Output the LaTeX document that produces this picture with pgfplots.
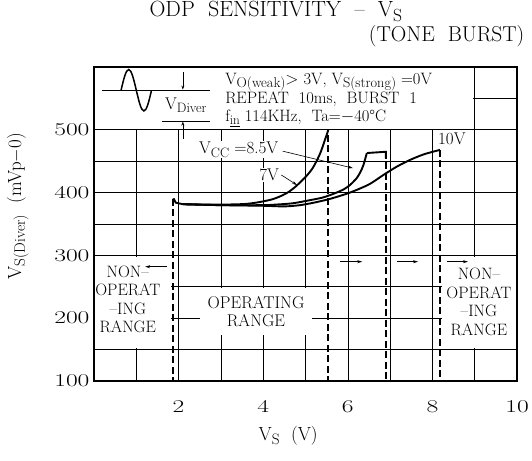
\documentclass[border=0pt]{standalone}
\usepackage{graphicx}
\usepackage{pgfplots}
\pgfplotsset{compat=1.18}
\usetikzlibrary{arrows.meta}

\newcommand\sub[1]{\raisebox{-0.45ex}{\scalebox{0.8}{#1}}}
\newcommand\tf{\fontsize{17}{17.5}\selectfont}
\newcommand\W[1]{\scalebox{1.42}[1]{#1}}

\begin{document}
\begin{tikzpicture}
\begin{axis}[
  scale only axis, width=423pt, height=314pt,
  xmin=0, xmax=10, ymin=100, ymax=600,
  xtick={2,4,6,8,10}, xticklabels={\W{2},\W{4},\W{6},\W{8},\W{10}},
  minor xtick={1,3,5,7,9},
  ytick={100,200,300,400,500}, yticklabels={\W{100},\W{200},\W{300},\W{400},\W{500}},
  minor ytick={150,250,350,450,550},
  grid=both,
  major grid style={black, line width=0.6pt},
  minor grid style={black, line width=0.6pt},
  major tick length=0pt, minor tick length=0pt,
  axis line style={line width=2.2pt},
  tick label style={font=\fontsize{18}{18}\selectfont},
  xticklabel style={yshift=-16pt},
  yticklabel style={xshift=-1pt},
  clip=false,
]
\coordinate (bl) at (rel axis cs:0,0);
\coordinate (tr) at (rel axis cs:1,1);

% white areas that hide the grid
\fill[white] (axis cs:0.03,501.5) rectangle (axis cs:8.97,598);
\fill[white] (axis cs:0.03,152) rectangle (axis cs:1.82,298);
\fill[white] (axis cs:8.23,152) rectangle (axis cs:9.97,298);
\fill[white] (axis cs:2.50,174) rectangle (axis cs:5.15,248);

% boundaries of the operating range
\addplot[black, line width=2.1pt, dash pattern=on 7pt off 3.5pt] coordinates {(1.875,390) (1.875,100)};
\addplot[black, line width=2.1pt, dash pattern=on 7pt off 3.5pt] coordinates {(5.54,492) (5.54,100)};
\addplot[black, line width=2.1pt, dash pattern=on 7pt off 3.5pt] coordinates {(6.90,465) (6.90,100)};
\addplot[black, line width=2.1pt, dash pattern=on 7pt off 3.5pt] coordinates {(8.18,468) (8.18,100)};

% common start
\addplot[black, line width=1.9pt] coordinates {(1.88,391) (1.93,384) (2.10,381.5)};
% VCC = 7V
\addplot[black, line width=1.9pt, smooth, tension=0.45] coordinates {
 (2.10,381.5) (2.6,381) (3.14,381) (3.6,382) (3.92,385) (4.20,389) (4.40,394)
 (4.60,401) (4.79,411) (5.03,427) (5.16,438) (5.26,450) (5.35,463) (5.42,476)
 (5.48,488) (5.54,500)};
% VCC = 8.5V
\addplot[black, line width=1.9pt, smooth, tension=0.45] coordinates {
 (2.10,381.5) (3.0,380) (4.0,380) (4.32,381) (4.70,383) (5.11,388) (5.40,392)
 (5.66,398) (5.90,405) (6.05,412) (6.21,423) (6.30,433) (6.37,444) (6.45,463)};
\addplot[black, line width=1.9pt] coordinates {(6.45,463) (6.90,465) (6.90,455)};
% VCC = 10V
\addplot[black, line width=1.9pt, smooth, tension=0.45] coordinates {
 (2.10,381.5) (3.0,380) (4.0,379) (4.50,378) (4.87,380) (5.20,384) (5.58,390)
 (6.05,400) (6.50,413) (6.84,428) (7.15,441) (7.47,452) (7.80,461) (8.18,468)};

% curve labels
\node[fill=white, inner sep=1pt, font=\tf] at (axis cs:3.42,468) {V\sub{CC} =8.5V};
\draw[-{Stealth[length=5pt,width=3pt]}, line width=0.6pt] (axis cs:4.46,466) -- (axis cs:6.12,439);
\node[fill=white, inner sep=1pt, font=\tf] at (axis cs:4.14,428) {7V};
\draw[-{Stealth[length=5pt,width=3pt]}, line width=0.6pt] (axis cs:4.43,428) -- (axis cs:4.80,412);
\node[font=\tf] at (axis cs:8.46,486) {10V};

% range texts and arrows
\node[align=center, font=\fontsize{17}{18}\selectfont] at (axis cs:3.83,210) {OPERATING\\RANGE};
\node[align=center, font=\fontsize{16.5}{18.5}\selectfont] at (axis cs:0.80,230) {NON--\\OPERAT\\--ING\\RANGE};
\node[align=center, font=\fontsize{16.5}{18.5}\selectfont] at (axis cs:9.10,226) {NON--\\OPERAT\\--ING\\RANGE};
\draw[-{Stealth[length=5pt,width=3pt]}, line width=0.6pt] (axis cs:1.73,282) -- (axis cs:1.21,282);
\draw[-{Stealth[length=5pt,width=3pt]}, line width=0.6pt] (axis cs:5.82,290) -- (axis cs:6.34,290);
\draw[-{Stealth[length=5pt,width=3pt]}, line width=0.6pt] (axis cs:7.16,290) -- (axis cs:7.66,290);
\draw[-{Stealth[length=5pt,width=3pt]}, line width=0.6pt] (axis cs:8.35,290) -- (axis cs:8.84,290);

% test condition box
\draw[line width=1.5pt] (axis cs:0.64,563) sin (axis cs:0.82,596) cos (axis cs:1.00,563) sin (axis cs:1.18,530) cos (axis cs:1.36,563);
\draw[line width=0.7pt] (axis cs:0.19,563) -- (axis cs:2.74,563);
\draw[line width=0.7pt] (axis cs:1.61,514) -- (axis cs:2.74,514);
\draw[-{Stealth[length=4pt,width=3pt]}, line width=0.6pt] (axis cs:2.10,592) -- (axis cs:2.10,564);
\draw[-{Stealth[length=4pt,width=3pt]}, line width=0.6pt] (axis cs:2.10,486) -- (axis cs:2.10,513);
\node[font=\tf] at (axis cs:2.17,539) {V\sub{Diver}};
\node[anchor=west, align=left, font=\fontsize{16.5}{18}\selectfont] at (axis cs:3.02,548)
 {V\sub{\scalebox{1.08}{O(weak)}}$>$ 3V,\ V\sub{\scalebox{1.08}{S(strong)}} =0V\\
  REPEAT\ \ 10ms,\ \ BURST\ \ 1\\
  f\sub{\underline{in}} 114KHz,\ \ Ta=$-$40\textdegree C};

% title and axis labels
\node[anchor=base, inner sep=0.5pt, font=\fontsize{22}{24}\selectfont] at (axis cs:4.30,680) {ODP\ \ SENSITIVITY\ \ --\ \ V\sub{S}};
\node[anchor=base east, inner sep=0.5pt, font=\fontsize{21.5}{24}\selectfont] at (axis cs:10.19,641) {(TONE\ \ BURST)};
\node[rotate=90, font=\fontsize{19}{21}\selectfont] at (axis cs:-1.80,378) {V\sub{S(Diver)}\ \ (mVp$-$0)};
\node[font=\fontsize{19}{21}\selectfont] at (axis cs:4.59,12) {V\sub{S}\ \ (V)};
\end{axis}
\pgfresetboundingbox
\path ([shift={(-94pt,-80pt)}]bl) rectangle ([shift={(15pt,67pt)}]tr);
\end{tikzpicture}
\end{document}
